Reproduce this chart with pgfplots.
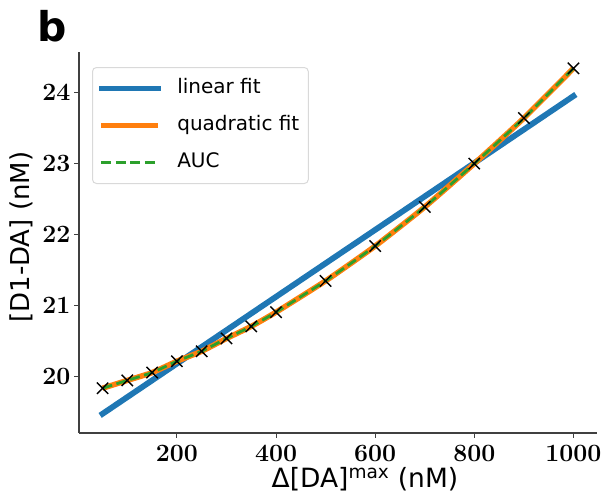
\documentclass[border=0pt]{standalone}
\usepackage{pgfplots}
\pgfplotsset{compat=1.18}
\usepackage[no-math]{fontspec}
\newfontfamily\dejavu{DejaVu Sans}
\definecolor{tabblue}{HTML}{1F77B4}
\definecolor{taborange}{HTML}{FF7F0E}
\definecolor{tabgreen}{HTML}{2CA02C}
\pgfplotstableread{
x y
50 19.84
100 19.95
150 20.06
200 20.22
250 20.36
300 20.54
350 20.71
400 20.91
500 21.35
600 21.84
700 22.39
800 23.00
900 23.64
1000 24.34
}\auc
\pgfplotstableread{
x y
50 19.48
1000 23.95
}\linfit
\begin{document}
\begin{tikzpicture}
\begin{axis}[
  scale only axis, width=518pt, height=381pt,
  xmin=2.5, xmax=1047.5, ymin=19.21, ymax=24.57,
  axis lines=left, axis line style={-, line width=1.1pt, black!75},
  clip=false,
  xtick={200,400,600,800,1000}, ytick={20,21,22,23,24},
  /pgf/number format/1000 sep={},
  tick align=outside, major tick length=5pt,
  tick style={line width=1pt, black!75},
  ticklabel style={font=\fontsize{23}{27}\selectfont\boldmath},
  xticklabel style={yshift=-4pt},
  xlabel={\dejavu Δ[DA]\textsuperscript{max} (nM)},
  ylabel={[D1-DA] (nM)},
  every axis x label/.style={at={(axis description cs:0.552,-0.143)}, anchor=base, font=\dejavu\fontsize{26.5}{30}\selectfont},
  every axis y label/.style={at={(axis description cs:-0.112,0.514)}, anchor=center, rotate=90, font=\dejavu\fontsize{26}{30}\selectfont},
  legend image code/.code={\draw[#1] (0pt,0pt) -- (57pt,0pt);},
  legend cell align=left,
  legend style={at={(axis description cs:0.0251,0.9606)}, anchor=north west,
    draw=black!15, line width=1pt, rounded corners=4pt, fill=white,
    font=\dejavu\fontsize{20}{24}\selectfont,
    inner xsep=6pt, inner ysep=2.5pt, row sep=0pt,
    nodes={inner xsep=3pt, inner ysep=8.5pt, text height=15pt, text depth=5pt},
    /tikz/every odd column/.append style={column sep=13pt}},
]
\addplot[tabblue, line width=5.8pt, line cap=rect] table[x=x,y=y] {\linfit};
\addlegendentry{linear fit}
\addplot[taborange, line width=5.5pt, smooth, tension=0.3] table[x=x,y=y] {\auc};
\addlegendentry{quadratic fit}
\addplot[tabgreen, line width=2.8pt, dash pattern=on 10pt off 4.5pt, smooth, tension=0.3] table[x=x,y=y] {\auc};
\addlegendentry{AUC}
\addplot[only marks, mark=x, mark size=8pt, black, line width=1.4pt, forget plot] table[x=x,y=y] {\auc};
\node[anchor=north west, inner sep=0pt, font=\dejavu\bfseries\fontsize{41}{48}\selectfont] at (axis description cs:-0.081,1.110) {b};
\path (axis description cs:-0.15251,-0.18110) rectangle (axis description cs:1.019305,1.136483);
\end{axis}
\end{tikzpicture}
\end{document}
